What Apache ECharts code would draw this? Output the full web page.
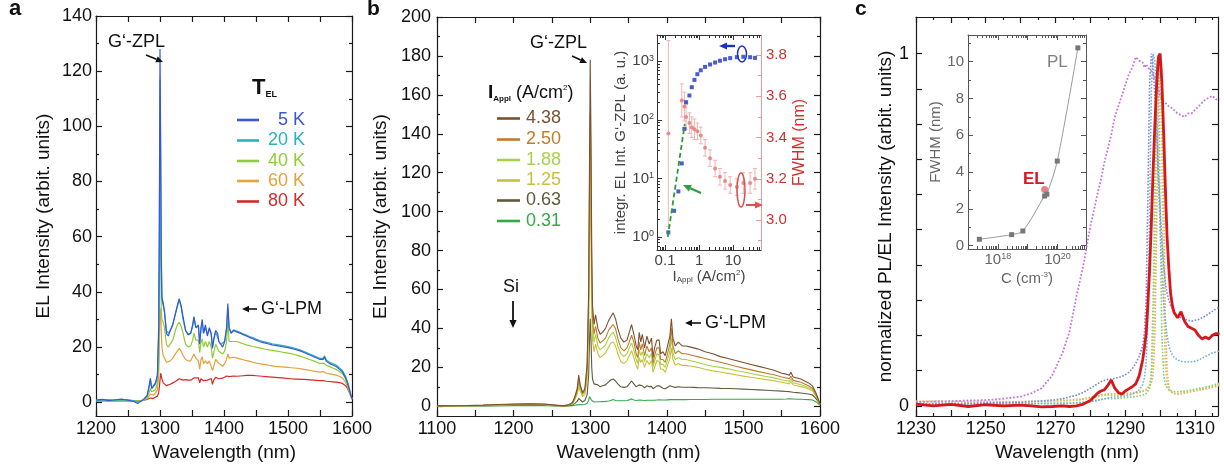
<!DOCTYPE html>
<html><head><meta charset="utf-8">
<script src="https://cdn.jsdelivr.net/npm/echarts@6.0.0/dist/echarts.min.js"></script>
<style>html,body{margin:0;padding:0;background:#fff}#c{width:1224px;height:472px}</style>
</head><body><div id="c"></div>
<script>
// ---------------- Panel a: EL spectra vs temperature ----------------
const waveA = [
1200,1210,1220,1230,1240,1250,1260,1265,1270,1275,
1280,1283,1285,1287,1290,1293,1296,1298,1299,1300,
1301,1302,1303,1305,1307,1310,1313,1316,1320,1324,
1327,1330,1333,1336,1340,1344,1348,1351,1353,1356,
1360,1362,1364,1366,1368,1371,1374,1377,1380,1382,
1384,1387,1390,1392,1395,1398,1401,1404,1406,1408,
1411,1415,1420,1425,1430,1435,1440,1445,1450,1455,
1460,1465,1470,1475,1480,1485,1490,1495,1500,1505,
1510,1515,1520,1525,1530,1535,1540,1545,1550,1555,
1557,1560,1565,1570,1575,1580,1585,1590,1593,1596,
1598,1600];
const el5K = [
0.8,1.0,0.6,0.9,1.1,0.7,0.2,-0.5,0.3,1.2,
2.5,6,8.7,5,5.5,7,10,28,70,128,
95,55,38,36,33,25,24,26,28,32,
35,37.5,35,31,26,24.5,25,28,31,27,
28,21,27,30,25,28,24,27,25,19.5,
23,26,25,22,21.5,20,22,27,35.8,27,
25,26,25.5,25,24.5,24,23.5,23,22.5,22,
21.7,21.4,21.1,20.8,20.6,20.4,20.2,20,19.8,19.5,
19.2,18.9,18.5,18,17.5,17,16.5,16,15.5,15.5,
16.3,14.8,14,13.5,13,12,11,8.8,7,4.5,
2.8,1.3];
const el20K = [
0.6,0.8,0.9,0.7,0.8,0.9,0.5,0.1,0.4,1.0,
2.3,5.5,8,5,5,6.5,9.5,25,60,117,
88,50,37,35,32.5,26,25,26,28.5,32,
34.5,37,34.5,30,26,24.5,25,27.5,30.5,27,
27.5,21.5,26.5,29,25,27,24.5,26.5,24.5,20,
22.5,25.5,25,22,21,20.5,22,26.5,34,27,
25.3,26.2,25.8,25.3,24.8,24.3,23.8,23.4,22.9,22.4,
22.1,21.8,21.5,21.2,21,20.8,20.6,20.4,20.2,19.9,
19.6,19.3,18.9,18.4,17.9,17.4,16.9,16.4,15.9,15.9,
16.8,15.3,14.5,14,13.5,12.5,11.5,9.3,7.4,4.8,
3,1.4];
const el40K = [
0.7,0.9,0.8,0.6,0.7,0.8,0.6,0.4,0.5,0.9,
1.8,3.5,5,3.8,3.8,4.5,7,15,40,74,
55,33,30,29,27,21,20,20.5,22.5,26,
28,29,27.5,25,21,20,20.5,22.5,25,22.5,
22.5,18,21.5,23,20,22,20,22,20,16,
18,21,21,18.5,18,17.5,18.5,22,29,22,
21.5,22,22,21.6,21.2,20.8,20.5,20.2,20,19.7,
19.4,19.2,19,18.8,18.6,18.4,18.2,18,17.8,17.6,
17.3,17,16.6,16.2,15.8,15.4,15,14.5,14,14.2,
14.8,13.4,12.9,12.4,11.9,11.2,10.4,8.5,6.6,4.2,
2.6,1.2];
const el60K = [
0.5,0.7,0.6,0.7,0.6,0.6,0.5,0.5,0.6,0.8,
1.3,2.2,3,2.5,2.5,3,4.5,10,22,33,
34,26,20,17,16,14.5,14.5,15,16,17.5,
18.5,19.5,18.5,17,15.5,15,15,15.5,17.5,16,
15,12,15.5,16.5,14,15,14,15,14.5,11.5,
13,15.5,16,14,13.5,13,14,15.5,17.5,16,
16,16.3,16,15.7,15.4,15.1,14.8,14.5,14.2,14,
13.8,13.6,13.4,13.2,13,12.9,12.8,12.7,12.6,12.5,
12.4,12.3,12.1,11.9,11.7,11.5,11.3,11.1,10.9,11.1,
11.5,10.5,10.3,10.1,9.8,9.4,8.8,7.3,5.6,3.6,
2.2,1];
const el80K = [
0.5,0.6,0.5,0.6,0.5,0.5,0.4,0.5,0.5,0.7,
1.0,1.3,1.5,1.4,1.4,1.6,2.2,3.5,5.5,8,
10.5,10,8.5,7,6.5,6,6,6.5,7,7.5,
8,8.5,8.3,8,8.2,8,8,8.5,8.8,8.5,
8.8,7,8.5,9,7.8,8.5,8,8.5,8.6,6.5,
8,9,9.3,8.5,9,8.7,9,9.5,10,9.3,
9.3,9.5,9.4,9.5,9.6,9.7,9.7,9.7,9.6,9.5,
9.4,9.3,9.2,9.1,9,8.9,8.8,8.7,8.6,8.5,
8.4,8.4,8.3,8.3,8.2,8.1,8,7.9,7.8,7.8,
7.9,7.6,7.5,7.4,7.3,7.1,6.8,6,5,3.4,
2.2,1.1];
const tempLabels = ['5 K','20 K','40 K','60 K','80 K'];

// ---------------- Panel b: EL spectra vs applied current ----------------
const waveB = [
1100,1120,1140,1160,1180,1200,1220,1240,1255,1265,
1272,1277,1280,1283,1285,1287,1290,1293,1296,1298,
1299,1300,1301,1302,1303,1305,1307,1310,1313,1316,
1320,1324,1327,1330,1333,1336,1340,1344,1348,1351,
1354,1357,1360,1362,1364,1366,1368,1371,1374,1377,
1380,1382,1384,1387,1390,1392,1395,1398,1401,1404,
1406,1408,1411,1415,1420,1425,1430,1435,1440,1450,
1460,1470,1480,1490,1500,1510,1520,1530,1540,1550,
1556,1560,1562,1565,1570,1575,1580,1585,1590,1594,
1597,1600];
const i438 = [
0.2,0.3,0.4,0.6,0.9,1.2,1.3,1.2,0.6,0.2,
0.8,2,5,9,16,11,7,9,22,60,
120,178,140,80,52,42,47,40,37,38,
40,44,46,48,45,40,35,33,34,38,
42,37,31,29,38,33,37,30,36,32,
35,25,30,34,34,27,28,26,31,36,
45,35,31,33,31,31,30.5,30,29.5,28,
27,25.5,24.5,23.5,22.5,21.5,20.5,19.5,18.5,17,
16.5,16,17.5,15,14.5,14,13,12,10.5,7.5,
4.5,1.2];
const i250 = [
0.2,0.3,0.4,0.5,0.8,1.0,1.1,1.0,0.5,0.2,
0.7,1.8,4.5,8,14,10,6.5,8,20,55,
110,150,125,70,45,37,41,35,32.5,33.5,
35,39,40.5,42,40,35,30,28.5,30,33,
36.5,33,27,25,33,29,32,26,31,28,
30,22,26,30,30,24,24,22.5,27,32,
40,31,27,28.5,27,27,26.5,26,25.5,24.5,
23.5,22.6,21.6,20.6,19.6,18.7,17.8,17,16.2,15,
14.5,14.1,15.4,13.3,12.8,12.3,11.5,10.6,9.3,6.7,
4,1.1];
const i188 = [
0.2,0.3,0.3,0.4,0.7,0.9,1.0,0.9,0.4,0.2,
0.6,1.6,4,7,12,9,6,7,17,48,
95,130,110,62,40,33,37,31,29,30,
31.5,35,37,38,35.5,31,27,25.5,27,30,
32.5,29,24,22,29,26,28,23,27,25,
27,20,23,27,26.5,21.5,21.5,20,24,28,
35,27.5,24,25,24,24,23.5,23,22.5,21.5,
20.6,20,19.2,18.4,17.6,16.8,16,15.3,14.6,13.6,
13.1,12.8,14,12,11.6,11.1,10.4,9.6,8.6,6.2,
3.8,1];
const i125 = [
0.2,0.2,0.3,0.4,0.6,0.8,0.9,0.8,0.4,0.2,
0.5,1.3,3.5,6,10,8,5,6,14,40,
80,110,92,52,34,28,32,27,25,26,
27.5,30.5,32.5,33,31,27,23,22,23.5,26,
28.5,25,21,19,25,22.5,24,20,23.5,21.5,
23.5,17.5,20,23.5,23,19,19,17.5,21,24.5,
30,24,21,22,21,21,20.7,20.4,20,19,
18.2,17.6,16.9,16.2,15.5,14.9,14.3,13.7,13.1,12.3,
11.8,11.5,12.6,10.9,10.5,10.1,9.6,8.9,8,5.8,
3.5,0.9];
const i063 = [
0.1,0.2,0.2,0.3,0.4,0.5,0.6,0.5,0.3,0.1,
0.3,0.7,1.5,2.5,4,3,2.2,3,6,16,
32,45,35,20,14,11.5,12.5,11,10,10.5,
11,12.5,13.5,14,13,11.5,10,9.7,10,11.5,
13,11.5,10,9.5,11,10,10.5,9.5,10.5,10,
10.2,9,9.5,10.5,10.5,9.5,9.3,9,9.8,10.5,
11.5,10,9.7,10,9.8,9.8,9.8,9.7,9.6,9.5,
9.4,9.2,9.1,9,8.8,8.6,8.4,8.2,8,7.8,
7.6,7.5,8.5,7.2,7,6.8,6.6,6.3,5.8,4.3,
2.8,0.8];
const i031 = [
0.1,0.1,0.1,0.2,0.2,0.3,0.3,0.3,0.2,0.1,
0.2,0.3,0.5,0.7,1,0.9,0.8,0.9,1.5,3,
5,6,4.5,3,2.5,2.2,2.3,2.3,2.3,2.4,
2.5,2.7,3,3.5,3,2.8,2.8,2.8,3,3.3,
3.8,3.2,3,3,3.2,3,3.1,3,3.1,3.1,
3.1,3,3.1,3.2,3.3,3.2,3.2,3.2,3.3,3.4,
3.5,3.4,3.4,3.4,3.4,3.4,3.5,3.5,3.5,3.5,
3.6,3.6,3.6,3.6,3.6,3.6,3.6,3.6,3.6,3.6,
3.7,3.8,4.5,3.7,3.6,3.6,3.5,3.4,3.2,2.5,
1.6,0.5];
const currentLabels = ['4.38','2.50','1.88','1.25','0.63','0.31'];

// inset b: integrated EL intensity and FWHM vs applied current
const blueX = [0.125,0.184,0.246,0.31,0.37,0.415,0.52,0.61,0.73,0.89,1.12,1.5,2.1,2.95,4.1,5.8,8.2,12.9,20,31.6,44];
const blueY = [1.2,2.8,6,18,70,200,260,360,480,600,700,800,880,950,1020,1080,1130,1170,1190,1170,1140];
const fitX = [0.12,0.38];
const fitY = [1.0,85];
const redX = [0.125,0.31,0.37,0.415,0.52,0.61,0.73,0.89,1.12,1.5,2.1,2.95,4.1,5.8,8.2,12.9,20,31.6,44];
const redY = [3.42,3.58,3.55,3.5,3.47,3.45,3.44,3.43,3.41,3.35,3.3,3.25,3.21,3.19,3.17,3.16,3.18,3.18,3.2];
const redErr = [0.45,0.08,0.07,0.06,0.05,0.05,0.05,0.04,0.04,0.04,0.04,0.04,0.04,0.04,0.04,0.04,0.05,0.05,0.05];

// ---------------- Panel c: normalized PL / EL ----------------
const waveC = [
1230,1235,1240,1245,1250,1255,1260,1263,1266,1269,
1272,1274,1276,1278,1280,1282,1283,1284,1285,1286,
1287,1288,1289,1290,1291,1292,1293,1294,1295,1295.5,
1296,1296.5,1297,1297.5,1298,1298.5,1299,1299.5,1300,1300.5,
1301,1301.5,1302,1302.5,1303,1303.5,1304,1305,1306,1307,
1308,1309,1310,1311,1312,1313,1314,1315,1316,1317];
const elC = [
0.005,0.0,0.004,-0.002,0.003,0.0,0.002,0.0,-0.003,-0.002,
0.0,-0.002,0.0,0.005,0.015,0.035,0.042,0.045,0.058,0.073,
0.05,0.038,0.033,0.042,0.048,0.054,0.062,0.085,0.13,0.165,
0.205,0.29,0.39,0.52,0.67,0.8,0.91,0.99,1.0,0.92,
0.78,0.62,0.48,0.39,0.32,0.285,0.265,0.25,0.267,0.24,
0.225,0.22,0.215,0.2,0.19,0.195,0.19,0.2,0.205,0.205];
const plMagenta = [
0.01,0.012,0.013,0.015,0.016,0.02,0.026,0.035,0.05,0.085,
0.15,0.21,0.31,0.4,0.51,0.6,0.64,0.69,0.73,0.77,
0.82,0.85,0.88,0.91,0.94,0.96,0.99,0.98,0.975,0.96,
0.97,0.96,0.955,0.95,0.94,0.93,0.92,0.9,0.88,0.87,
0.865,0.86,0.855,0.85,0.85,0.845,0.84,0.83,0.825,0.82,
0.83,0.83,0.84,0.85,0.86,0.87,0.875,0.88,0.87,0.87];
const plBlue = [
0.005,0.006,0.006,0.007,0.008,0.009,0.01,0.012,0.014,0.016,
0.02,0.025,0.03,0.038,0.05,0.062,0.068,0.072,0.075,0.076,
0.078,0.08,0.083,0.088,0.095,0.105,0.12,0.14,0.17,0.21,
0.3,0.6,0.92,1.0,0.96,0.88,0.78,0.66,0.56,0.47,
0.4,0.35,0.32,0.3,0.285,0.275,0.265,0.255,0.25,0.245,
0.243,0.24,0.243,0.245,0.25,0.255,0.262,0.268,0.275,0.28];
const plLightBlue = [
0.004,0.004,0.004,0.005,0.005,0.005,0.005,0.006,0.006,0.006,
0.006,0.007,0.008,0.01,0.012,0.015,0.017,0.02,0.022,0.024,
0.025,0.026,0.027,0.028,0.03,0.033,0.038,0.045,0.06,0.08,
0.12,0.25,0.55,0.9,1.0,0.98,0.85,0.65,0.5,0.38,
0.3,0.24,0.2,0.17,0.155,0.145,0.138,0.13,0.126,0.125,
0.125,0.125,0.126,0.13,0.135,0.14,0.145,0.15,0.153,0.155];
const plGreen = [
0.004,0.004,0.005,0.005,0.005,0.006,0.006,0.006,0.007,0.007,
0.008,0.008,0.009,0.01,0.012,0.016,0.018,0.02,0.02,0.02,
0.02,0.021,0.022,0.023,0.024,0.025,0.026,0.028,0.03,0.032,
0.035,0.04,0.05,0.1,0.3,0.65,0.95,1.0,0.55,0.2,
0.09,0.06,0.05,0.045,0.042,0.04,0.04,0.04,0.041,0.042,
0.043,0.045,0.047,0.049,0.051,0.053,0.055,0.058,0.061,0.064];
const plYellow = [
0.012,0.012,0.012,0.011,0.011,0.011,0.011,0.012,0.012,0.013,
0.014,0.015,0.016,0.018,0.022,0.026,0.028,0.03,0.03,0.03,
0.03,0.03,0.031,0.032,0.033,0.034,0.035,0.037,0.04,0.042,
0.045,0.05,0.06,0.08,0.15,0.4,0.8,0.98,1.0,0.7,
0.3,0.12,0.06,0.045,0.04,0.037,0.035,0.035,0.036,0.038,
0.04,0.042,0.044,0.046,0.048,0.05,0.052,0.055,0.058,0.062];
const plOrange = [
0.013,0.013,0.012,0.012,0.012,0.012,0.012,0.013,0.013,0.014,
0.015,0.016,0.018,0.02,0.024,0.028,0.03,0.032,0.033,0.033,
0.034,0.034,0.035,0.035,0.036,0.037,0.038,0.04,0.042,0.044,
0.046,0.05,0.055,0.065,0.09,0.2,0.5,0.85,1.0,0.95,
0.6,0.25,0.1,0.055,0.04,0.036,0.034,0.033,0.034,0.036,
0.038,0.04,0.042,0.044,0.046,0.048,0.05,0.052,0.055,0.058];

// inset c: FWHM vs carbon concentration
const concPL = [2.4e17,2.9e18,6.9e18,3.7e19,4.4e19,9.8e19,4.8e20];
const fwhmPL = [0.35,0.6,0.8,2.7,2.8,4.6,10.75];
const concEL = [3.7e19];
const fwhmEL = [3.05];

// ---------------- helpers ----------------
const FONT = '"Liberation Sans", Arial, Helvetica, sans-serif';
const INK = '#1a1a1a';
const rng = (a, b, s) => { const r = []; for (let v = a; v <= b + 1e-9; v += s) r.push(Math.round(v * 1000) / 1000); return r; };
const logMinor = (d0, d1, lo, hi) => { const r = []; for (let d = d0; d <= d1; d++) for (let k = 2; k <= 9; k++) { const v = k * Math.pow(10, d); if (v > lo && v < hi) r.push(v); } return r; };
const pairs = (xs, ys) => xs.map((x, i) => [x, ys[i]]);
const supFmt = v => '{n|10}{s|' + Math.round(Math.log10(v)) + '}';
const plainFmt = v => String(v);

const xAxes = [], yAxes = [];
function mkAxis(g, pos, A, labels) {
  const col = A.color || INK;
  const ax = {
    type: A.type || 'value', gridIndex: g, position: pos, min: A.min, max: A.max, logBase: 10,
    axisLine: { show: true, onZero: false, lineStyle: { color: col, width: A.lw || 1.2 } },
    axisTick: { show: true, inside: true, length: A.majorLen || 6, customValues: A.major, lineStyle: { color: col, width: A.lw || 1.2 } },
    axisLabel: { show: false }, splitLine: { show: false }, splitArea: { show: false }, minorTick: { show: false }
  };
  if (labels) {
    ax.axisLabel = { show: true, customValues: A.labels, color: A.labelColor || '#111', fontSize: A.fs || 18, fontFamily: FONT,
      margin: A.margin == null ? 4 : A.margin, hideOverlap: false, showMinLabel: true, showMaxLabel: true,
      formatter: A.fmt || plainFmt };
    if (A.rich) ax.axisLabel.rich = A.rich;
    if (A.name) {
      ax.name = A.name; ax.nameLocation = 'middle'; ax.nameGap = A.nameGap;
      ax.nameTextStyle = Object.assign({ fontSize: A.nfs || 19, fontFamily: FONT, color: A.nameColor || '#111' }, A.nameStyle || {});
    }
  }
  return ax;
}
function mkMinor(g, pos, A) {
  return { type: A.type || 'value', gridIndex: g, position: pos, min: A.min, max: A.max, logBase: 10,
    axisLine: { show: false, onZero: false }, axisLabel: { show: false }, splitLine: { show: false },
    axisTick: { show: !!A.minor, inside: true, length: A.minorLen || 3, customValues: A.minor || [], lineStyle: { color: A.color || INK, width: A.lw || 1.2 } } };
}
function box(g, X, Y, Y2) {
  const xi = xAxes.length;
  xAxes.push(mkAxis(g, 'bottom', X, true), mkMinor(g, 'bottom', X), mkAxis(g, 'top', X, false), mkMinor(g, 'top', X));
  const yi = yAxes.length;
  yAxes.push(mkAxis(g, 'left', Y, true), mkMinor(g, 'left', Y));
  const yr = yAxes.length;
  const R = Y2 || Y;
  yAxes.push(mkAxis(g, 'right', R, !!Y2), mkMinor(g, 'right', R));
  return { xi, yi, yr };
}

// ---------------- axes ----------------
const PA = box(0,
  { min: 1200, max: 1600, major: rng(1200, 1600, 100), minor: rng(1250, 1550, 100), minorLen: 6, labels: rng(1200, 1600, 100), name: 'Wavelength (nm)', nameGap: 26 },
  { min: -5, max: 140, major: rng(0, 140, 20), minor: rng(10, 130, 20), labels: rng(0, 140, 20), name: 'EL Intensity (arbit. units)', nameGap: 43 });
const PB = box(1,
  { min: 1100, max: 1600, major: rng(1100, 1600, 100), minor: rng(1150, 1550, 100), minorLen: 6, labels: rng(1100, 1600, 100), name: 'Wavelength (nm)', nameGap: 26 },
  { min: -5, max: 200, major: rng(0, 200, 20), minor: rng(10, 190, 20), labels: rng(0, 200, 20), margin: 6, name: 'EL Intensity (arbit. units)', nameGap: 47 });
const PC = box(2,
  { min: 1230, max: 1316.6, major: rng(1230, 1310, 10), minor: rng(1235, 1315, 10), labels: [1230, 1250, 1270, 1290, 1310], name: 'Wavelength (nm)', nameGap: 26 },
  { min: -0.029, max: 1.104, major: rng(0, 1, 0.1), labels: [0, 1], margin: 7, name: 'normalized PL/EL Intensity (arbit. units)', nameGap: 10 });

const supRich = (fs, col) => ({
  n: { fontSize: fs, fontFamily: FONT, color: col },
  s: { fontSize: 9, fontFamily: FONT, color: col, verticalAlign: 'top', lineHeight: 9 }
});
const subRich = (fs, col) => ({
  n: { fontSize: fs, fontFamily: FONT, color: col },
  s: { fontSize: 8, fontFamily: FONT, color: col, verticalAlign: 'bottom', lineHeight: 9 },
  p: { fontSize: 8, fontFamily: FONT, color: col, verticalAlign: 'top', lineHeight: 9 }
});

const IB = box(3,
  { type: 'log', min: 0.058, max: 66, major: [0.1, 1, 10], minor: logMinor(-2, 1, 0.058, 66), majorLen: 5, minorLen: 3, color: '#333', lw: 1,
    labels: [0.1, 1, 10], fmt: v => (v < 1 ? '0.1' : String(Math.round(v))), fs: 15, labelColor: '#444', margin: 3,
    name: '{n|I}{s|Appl} (A/cm{p|2})', nameGap: 19, nfs: 15, nameColor: '#444', nameStyle: { rich: subRich(15, '#444') } },
  { type: 'log', min: 0.6, max: 2800, major: [1, 10, 100, 1000], minor: logMinor(-1, 3, 0.6, 2800), majorLen: 5, minorLen: 3, color: '#333', lw: 1,
    labels: [1, 10, 100, 1000], fmt: supFmt, rich: supRich(15, '#444'), fs: 15, labelColor: '#444', margin: 3,
    name: 'integr. EL Int. G\u2018-ZPL (a. u.)', nameGap: 28, nfs: 15, nameColor: '#444' },
  { min: 2.855, max: 3.897, major: [3.0, 3.2, 3.4, 3.6, 3.8], minor: [2.9, 3.1, 3.3, 3.5, 3.7], majorLen: 5, minorLen: 3, color: '#e89a9a', lw: 1,
    labels: [3.0, 3.2, 3.4, 3.6, 3.8], fmt: v => v.toFixed(1), fs: 15, labelColor: '#d2302e', margin: 5,
    name: 'FWHM (nm)', nameGap: 31, nfs: 16, nameColor: '#d2302e' });

const IC = box(4,
  { type: 'log', min: 1e17, max: 9e20, major: [1e17, 1e18, 1e19, 1e20], minor: logMinor(17, 20, 1e17, 9e20), majorLen: 5, minorLen: 3, color: '#555', lw: 1,
    labels: [1e18, 1e20], fmt: supFmt, rich: supRich(15, '#666'), fs: 15, labelColor: '#666', margin: 3,
    name: 'C (cm{p|-3})', nameGap: 22, nfs: 15, nameColor: '#666', nameStyle: { rich: subRich(15, '#666') } },
  { min: -0.18, max: 11.45, major: rng(0, 10, 2), minor: rng(1, 11, 2), majorLen: 5, minorLen: 3, color: '#555', lw: 1,
    labels: rng(0, 10, 2), fs: 15, labelColor: '#666', margin: 4,
    name: 'FWHM (nm)', nameGap: 18, nfs: 15, nameColor: '#666' });

// ---------------- series ----------------
const series = [];
function line(P, xs, ys, color, width, type, yIdx) {
  series.push({ type: 'line', xAxisIndex: P.xi, yAxisIndex: yIdx == null ? P.yi : yIdx, data: pairs(xs, ys),
    symbol: 'none', showSymbol: false, silent: true, animation: false,
    lineStyle: { color, width, type: type || 'solid' } });
}
// panel a (5 K drawn last, on top)
const colA = ['#3a56d8', '#25b3c4', '#8fcd35', '#e3a23c', '#d42a2a'];
[[el80K, colA[4]], [el60K, colA[3]], [el40K, colA[2]], [el20K, colA[1]], [el5K, colA[0]]].forEach(s => line(PA, waveA, s[0], s[1], 1.2));
// panel b
const colB = ['#7b5230', '#c27b2a', '#a9d147', '#c9bf3c', '#5e5a3a', '#36a845'];
[[i031, colB[5]], [i063, colB[4]], [i125, colB[3]], [i188, colB[2]], [i250, colB[1]], [i438, colB[0]]].forEach(s => line(PB, waveB, s[0], s[1], 1.1));
// panel c
line(PC, waveC, plOrange, '#e8a860', 1.6, 'dotted');
line(PC, waveC, plYellow, '#d4cc58', 1.6, 'dotted');
line(PC, waveC, plGreen, '#84cf78', 1.6, 'dotted');
line(PC, waveC, plLightBlue, '#6cb2dc', 1.6, 'dotted');
line(PC, waveC, plBlue, '#7a86d8', 1.6, 'dotted');
line(PC, waveC, plMagenta, '#c876dc', 1.8, 'dotted');
line(PC, waveC, elC, '#d8171b', 2.8);

// inset b
series.push({ type: 'custom', xAxisIndex: IB.xi, yAxisIndex: IB.yr, silent: true, animation: false,
  data: redX.map((x, i) => [x, redY[i], redErr[i]]), encode: { x: 0, y: 1 },
  renderItem: (params, api) => {
    const x = api.value(0), y = api.value(1), e = api.value(2);
    const a = api.coord([x, y - e]), b = api.coord([x, y + e]);
    const st = { stroke: '#f0b4b4', lineWidth: 1 };
    return { type: 'group', children: [
      { type: 'line', shape: { x1: a[0], y1: a[1], x2: b[0], y2: b[1] }, style: st },
      { type: 'line', shape: { x1: a[0] - 2, y1: a[1], x2: a[0] + 2, y2: a[1] }, style: st },
      { type: 'line', shape: { x1: b[0] - 2, y1: b[1], x2: b[0] + 2, y2: b[1] }, style: st } ] };
  } });
series.push({ type: 'scatter', xAxisIndex: IB.xi, yAxisIndex: IB.yr, data: pairs(redX, redY), symbol: 'circle', symbolSize: 4,
  itemStyle: { color: '#e27474' }, silent: true, animation: false });
series.push({ type: 'line', xAxisIndex: IB.xi, yAxisIndex: IB.yi, data: pairs(fitX, fitY), symbol: 'none', silent: true, animation: false,
  lineStyle: { color: '#2f9a3c', width: 1.8, type: [5, 3] } });
series.push({ type: 'scatter', xAxisIndex: IB.xi, yAxisIndex: IB.yi, data: pairs(blueX, blueY), symbol: 'rect', symbolSize: 4,
  itemStyle: { color: '#1b33c4' }, silent: true, animation: false });
// inset c
series.push({ type: 'line', xAxisIndex: IC.xi, yAxisIndex: IC.yi, data: pairs(concPL, fwhmPL), smooth: 0.3, symbol: 'rect', symbolSize: 5,
  showSymbol: true, lineStyle: { color: '#999', width: 1 }, itemStyle: { color: '#777' }, silent: true, animation: false });
series.push({ type: 'scatter', xAxisIndex: IC.xi, yAxisIndex: IC.yi, data: pairs(concEL, fwhmEL), symbol: 'circle', symbolSize: 7,
  itemStyle: { color: '#e0606e' }, silent: true, animation: false });

// ---------------- annotations ----------------
function txt(x, y, text, o) {
  o = o || {};
  const st = { text, x: 0, y: 0, fill: o.color || '#111', fontSize: o.size || 18, fontFamily: FONT, fontWeight: o.bold ? 'bold' : 'normal',
    align: o.align || 'left', textAlign: o.align || 'left', verticalAlign: 'middle', textVerticalAlign: 'middle' };
  if (o.rich) st.rich = o.rich;
  return { type: 'text', x, y, z: 100, silent: true, style: st };
}
function arrow(x1, y1, x2, y2, c, w, h) {
  const a = Math.atan2(y2 - y1, x2 - x1), hl = h || 8, hw = hl * 0.45;
  const bx = x2 - hl * Math.cos(a), by = y2 - hl * Math.sin(a);
  const px = -Math.sin(a) * hw, py = Math.cos(a) * hw;
  return [
    { type: 'line', z: 100, silent: true, shape: { x1, y1, x2: bx, y2: by }, style: { stroke: c, lineWidth: w } },
    { type: 'polygon', z: 100, silent: true, shape: { points: [[x2, y2], [bx + px, by + py], [bx - px, by - py]] }, style: { fill: c } }
  ];
}
function ell(cx, cy, rx, ry, c) {
  return { type: 'ellipse', z: 100, silent: true, shape: { cx, cy, rx, ry }, style: { fill: 'none', stroke: c, lineWidth: 1.5 } };
}
function legendRow(x1, x2, y, c, label, tx, align) {
  return [
    { type: 'line', z: 100, silent: true, shape: { x1, y1: y, x2, y2: y }, style: { stroke: c, lineWidth: 2.6 } },
    txt(tx, y, label, { color: c, size: 18, align })
  ];
}
const G = [];
G.push(txt(9, 9, 'a', { bold: true, size: 22 }), txt(367, 9, 'b', { bold: true, size: 21 }), txt(855, 9, 'c', { bold: true, size: 21 }));
// panel a
G.push(txt(108, 42, 'G\u2018-ZPL'));
G.push(...arrow(146, 55, 163, 62, '#111', 1.6, 7));
G.push(txt(252, 88, '{t|T}{s|EL}', { rich: {
  t: { fontSize: 22, fontWeight: 'bold', fontFamily: FONT, fill: '#111', color: '#111' },
  s: { fontSize: 9, fontWeight: 'bold', fontFamily: FONT, fill: '#111', color: '#111', verticalAlign: 'bottom', lineHeight: 10 } } }));
const rowsA = [120, 140.5, 161, 181, 201.5];
tempLabels.forEach((lab, i) => G.push(...legendRow(237, 259, rowsA[i], colA[i], lab, 305, 'right')));
G.push(txt(261, 309, 'G\u2018-LPM'));
G.push(...arrow(257, 309, 242, 309, '#111', 1.6, 7));
// panel b
G.push(txt(530, 43, 'G\u2018-ZPL'));
G.push(...arrow(572, 56, 587, 63, '#111', 1.6, 7));
G.push(txt(488, 93, '{i|I}{s|Appl} (A/cm{p|2})', { rich: {
  i: { fontSize: 19, fontWeight: 'bold', fontFamily: FONT, fill: '#111', color: '#111' },
  s: { fontSize: 8, fontWeight: 'bold', fontFamily: FONT, fill: '#111', color: '#111', verticalAlign: 'bottom', lineHeight: 9 },
  p: { fontSize: 8, fontFamily: FONT, fill: '#111', color: '#111', verticalAlign: 'top', lineHeight: 9 } } }));
const rowsB = [118.5, 139.5, 160, 180.5, 200.5, 221];
currentLabels.forEach((lab, i) => G.push(...legendRow(497, 520, rowsB[i], colB[i], lab, 526, 'left')));
G.push(txt(503, 287, 'Si'));
G.push(...arrow(513, 301, 513, 328, '#111', 1.8, 8));
G.push(txt(705, 323, 'G\u2018-LPM'));
G.push(...arrow(701, 323, 685, 323, '#111', 1.6, 7));
// inset b annotations
G.push(...arrow(701, 193, 683, 185, '#2e9e3e', 2.4, 8));
G.push(...arrow(735, 46, 719, 46, '#1b33c4', 2.4, 8));
G.push(ell(742, 54, 4.5, 8, '#1b33c4'));
G.push(ell(741, 190, 4, 17, '#e05050'));
G.push(...arrow(746, 205, 763, 205, '#e05050', 2, 8));
// inset c annotations
G.push(txt(1047, 62, 'PL', { color: '#808080', size: 17 }));
G.push(txt(1023, 179, 'EL', { color: '#d8171b', size: 17, bold: true }));

const gridBase = { containLabel: false, outerBoundsMode: 'none', show: false };
const option = {
  backgroundColor: '#fff',
  animation: false,
  textStyle: { fontFamily: FONT },
  grid: [
    { left: 96, top: 16, width: 256, height: 400 },
    { left: 437, top: 17, width: 383, height: 399 },
    { left: 916, top: 17, width: 302, height: 399 },
    { left: 657, top: 35, width: 104, height: 215, show: true, backgroundColor: '#fff', borderWidth: 0 },
    { left: 968, top: 35, width: 118, height: 214, show: true, backgroundColor: '#fff', borderWidth: 0 }
  ].map(g => Object.assign({}, gridBase, g)),
  xAxis: xAxes,
  yAxis: yAxes,
  series,
  graphic: { elements: G }
};
const chart = echarts.init(document.getElementById('c'), null, { renderer: 'canvas', width: 1224, height: 472 });
chart.setOption(option);
</script></body></html>
